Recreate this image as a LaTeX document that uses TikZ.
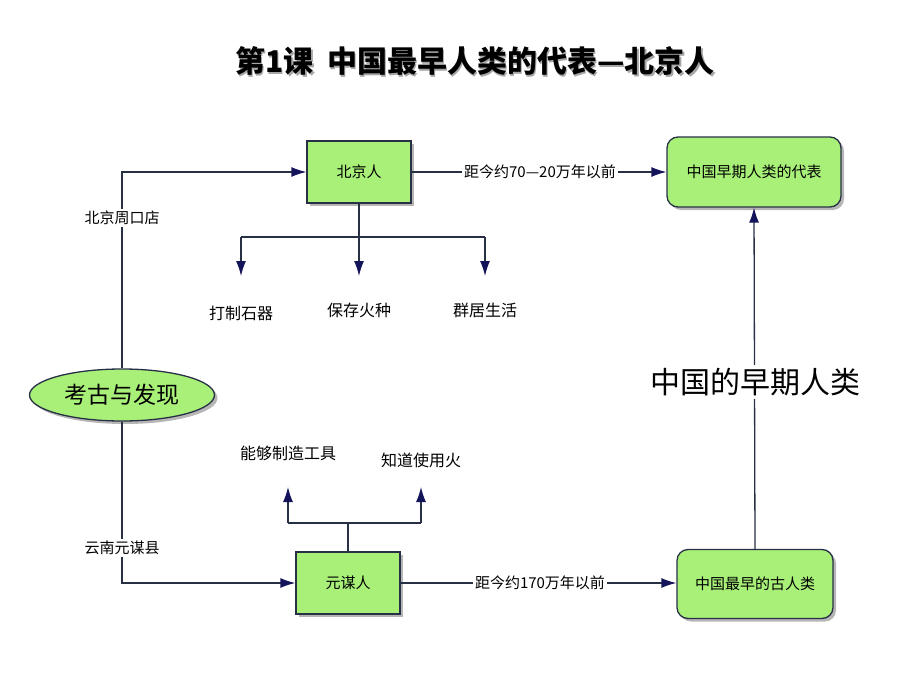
\documentclass[tikz,border=0pt]{standalone}
\usepackage{fontspec}
\newfontfamily\cjk{Noto Sans CJK SC}
\usetikzlibrary{arrows.meta,shapes.geometric,shadows}
\definecolor{boxgreen}{RGB}{168,240,120}
\definecolor{edge}{RGB}{40,48,70}
\definecolor{tipc}{RGB}{20,20,90}
\definecolor{shade}{RGB}{110,110,110}
\tikzset{
  every node/.style={font=\cjk},
  sqbox/.style={draw=edge, line width=1.3pt, fill=boxgreen, minimum width=104pt, minimum height=62pt, font=\cjk\fontsize{15}{18}\selectfont,
    drop shadow={shadow xshift=3pt, shadow yshift=-3pt, fill=shade}},
  rdbox/.style={draw=edge, line width=1.3pt, fill=boxgreen, rounded corners=11pt, font=\cjk\fontsize{15}{18}\selectfont,
    drop shadow={shadow xshift=3pt, shadow yshift=-3pt, fill=shade}},
  conn/.style={draw=edge, line width=1.3pt, -{Latex[length=15pt,width=10pt,color=tipc,fill=tipc]}},
  plain/.style={draw=edge, line width=1.3pt},
  lbl/.style={fill=white, inner sep=2pt, font=\cjk\fontsize{15}{18}\selectfont},
  leaf/.style={font=\cjk\fontsize{16}{19}\selectfont, inner sep=1pt},
}
\begin{document}
\begin{tikzpicture}[x=1pt,y=-1pt]
\useasboundingbox (0,0) rectangle (920,690);
% title
\node[text=gray!70, font=\cjk\bfseries\fontsize{30}{34}\selectfont] at (476.5,62.5) {第1课\ \ 中国最早人类的代表—北京人};
\node (title) [font=\cjk\bfseries\fontsize{30}{34}\selectfont] at (475,61) {第1课\ \ 中国最早人类的代表—北京人};
% nodes
\node (bjr) [sqbox] at (359,172) {北京人};
\node (dai) [rdbox, minimum width=174pt, minimum height=70pt] at (754,172) {中国早期人类的代表};
\node (kao) [ellipse, draw=edge, line width=1.3pt, fill=boxgreen, minimum width=185pt, minimum height=52pt,
   font=\cjk\fontsize{23}{27}\selectfont, drop shadow={shadow xshift=3pt, shadow yshift=-3pt, fill=shade}] at (122,395) {考古与发现};
\node (ymr) [sqbox] at (348,583) {元谋人};
\node (gu) [rdbox, minimum width=156pt, minimum height=69pt] at (755,584) {中国最早的古人类};
% leaf texts
\node (l1) [leaf] at (241,313) {打制石器};
\node (l2) [leaf] at (359,310) {保存火种};
\node (l3) [leaf] at (485,310) {群居生活};
\node (u1) [leaf] at (288,453) {能够制造工具};
\node (u2) [leaf] at (421,460) {知道使用火};
% coordinates
\coordinate (a1) at (122,172);
\coordinate (a2) at (122,583);
\coordinate (b0) at (359,237);
\coordinate (b1) at (241,237);
\coordinate (b3) at (485,237);
\coordinate (t1) at (241,276);
\coordinate (t2) at (359,276);
\coordinate (t3) at (485,276);
\coordinate (c0) at (348,523);
\coordinate (c1) at (288,523);
\coordinate (c2) at (421,523);
\coordinate (s1) at (288,487);
\coordinate (s2) at (421,487);
% connectors
\draw[conn] (kao.north) -- (a1) -- (bjr.west);
\draw[conn] (kao.south) -- (a2) -- (ymr.west);
\draw[conn] (bjr.east) -- (dai.west);
\draw[conn] (ymr.east) -- (ymr.east -| gu.west);
\draw[conn] (gu.north) -- (dai.south);
\draw[plain] (bjr.south) -- (b0);
\draw[plain] (b1) -- (b3);
\draw[conn] (b1) -- (t1);
\draw[conn] (b0) -- (t2);
\draw[conn] (b3) -- (t3);
\draw[plain] (ymr.north) -- (c0);
\draw[plain] (c1) -- (c2);
\draw[conn] (c1) -- (s1);
\draw[conn] (c2) -- (s2);
% labels on lines
\node (n1) [lbl] at (122,218) {北京周口店};
\node (n2) [lbl] at (122,548) {云南元谋县};
\node (n3) [lbl] at (540,172) {距今约70—20万年以前};
\node (n4) [lbl] at (540,583) {距今约170万年以前};
\node (n5) [fill=white, inner sep=3pt, font=\cjk\fontsize{30}{34}\selectfont] at (755,382) {中国的早期人类};
\end{tikzpicture}
\end{document}
